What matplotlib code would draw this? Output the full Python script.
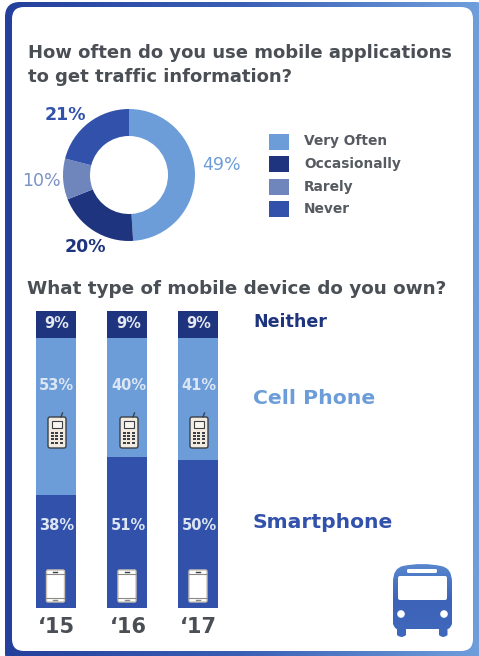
import matplotlib
matplotlib.use('Agg')
import matplotlib.pyplot as plt
import numpy as np
from matplotlib.colors import LinearSegmentedColormap
from matplotlib.patches import Circle, FancyBboxPatch, Rectangle, PathPatch
from matplotlib.path import Path

# Donut data
usage_labels = ['Very Often', 'Occasionally', 'Rarely', 'Never']
usage_values = [49, 20, 10, 21]
usage_colors = ['#6D9DD9', '#1E347F', '#6E86BC', '#3251AB']

# Stacked bars, one value per year
years = ["‘15", "‘16", "‘17"]
smartphone = [38, 51, 50]
cell_phone = [53, 40, 41]
neither = [9, 9, 9]

W, H = 479, 656
GRAY = '#4A4F55'
FONT = 'DejaVu Sans'

fig = plt.figure(figsize=(W / 100, H / 100), dpi=100, facecolor='white')


def px_axes(x0, y0, x1, y1, zorder=1):
    ax = fig.add_axes([x0 / W, 1 - y1 / H, (x1 - x0) / W, (y1 - y0) / H], zorder=zorder)
    ax.axis('off')
    return ax


def canvas(zorder):
    # full-figure axes working in pixels, y pointing down
    ax = px_axes(0, 0, W, H, zorder)
    ax.set_xlim(0, W)
    ax.set_ylim(H, 0)
    ax.patch.set_alpha(0)
    return ax


def rounded(x0, y0, x1, y1, r):
    return FancyBboxPatch((x0 + r, y0 + r), x1 - x0 - 2 * r, y1 - y0 - 2 * r,
                          boxstyle='round,pad=%f,rounding_size=%f' % (r, r),
                          linewidth=0)


bg = canvas(0)
fg = canvas(5)

# gradient frame
frame_cmap = LinearSegmentedColormap.from_list('frame', ['#24409C', '#3A5FB5', '#6F9EDB'])
outer = rounded(5, 2, 490, 668, 15)
outer.set_facecolor('none')
bg.add_patch(outer)
grad = np.linspace(0, 1, 256).reshape(1, -1)
im = bg.imshow(grad, extent=(5, W, H, 2), cmap=frame_cmap, aspect='auto', zorder=1)
im.set_clip_path(outer)
bg.set_xlim(0, W)
bg.set_ylim(H, 0)
inner = rounded(12, 7, 473, 651, 12)
inner.set_facecolor('white')
inner.set_zorder(2)
bg.add_patch(inner)

# titles
fg.text(28, 53, 'How often do you use mobile applications', fontsize=13, fontweight='bold',
        color=GRAY, family=FONT, va='center')
fg.text(28, 77, 'to get traffic information?', fontsize=13, fontweight='bold',
        color=GRAY, family=FONT, va='center')
fg.text(27, 289, 'What type of mobile device do you own?', fontsize=13.2, fontweight='bold',
        color=GRAY, family=FONT, va='center')

# donut
pie_ax = px_axes(129 - 66, 175 - 66, 129 + 66, 175 + 66)
pie_ax.pie(usage_values, colors=usage_colors, startangle=90, counterclock=False, radius=1,
           wedgeprops=dict(width=27 / 66, linewidth=0))
pie_ax.set_xlim(-1, 1)
pie_ax.set_ylim(-1, 1)

pct_pos = [(222, 165), (85, 247), (41, 181), (65, 115)]
pct_colors = ['#6D9DD9', '#1E347F', '#7C92C4', '#3251AB']
pct_weight = ['normal', 'bold', 'normal', 'bold']
for v, (x, y), c, w in zip(usage_values, pct_pos, pct_colors, pct_weight):
    fg.text(x, y, '%d%%' % v, fontsize=12.5, color=c, family=FONT, fontweight=w,
            ha='center', va='center')

# legend
for i, (lab, c) in enumerate(zip(usage_labels, usage_colors)):
    yc = 141.5 + i * 22.5
    fg.add_patch(Rectangle((269, yc - 8), 20, 16, facecolor=c, linewidth=0))
    fg.text(304, yc, lab, fontsize=9.9, fontweight='bold', color='#555B60', family=FONT,
            va='center')

# stacked bars
bar_ax = px_axes(36 - 0.22 * 71.25, 311, 218 + 0.22 * 71.25, 608)
xs = np.arange(len(years))
bar_w = 0.56
bar_ax.bar(xs, smartphone, width=bar_w, color='#3251AB', linewidth=0)
bar_ax.bar(xs, cell_phone, width=bar_w, bottom=smartphone, color='#6D9DD9', linewidth=0)
bar_ax.bar(xs, neither, width=bar_w, bottom=np.add(smartphone, cell_phone), color='#1E347F', linewidth=0)
bar_ax.set_xlim(-0.5, 2.5)
bar_ax.set_ylim(0, 100)

centers = [56, 128, 198.5]
for i, xc in enumerate(centers):
    for val, y, col in [(neither[i], 323, '#E6E9F0'), (cell_phone[i], 386, '#DCE6F3'), (smartphone[i], 526, '#DCE6F3')]:
        fg.text(xc + 0.5, y, '%d%%' % val, fontsize=10.5, fontweight='bold', color=col, family=FONT,
                ha='center', va='center')
    fg.text(xc, 627, years[i], fontsize=15, fontweight='bold', color=GRAY, family=FONT,
            ha='center', va='center')

# series names to the right of the bars
fg.text(253, 322, 'Neither', fontsize=12.6, fontweight='bold', color='#1E347F', family=FONT, va='center')
fg.text(253, 399, 'Cell Phone', fontsize=14.7, fontweight='bold', color='#6D9DD9', family=FONT, va='center')
fg.text(253, 523, 'Smartphone', fontsize=14.6, fontweight='bold', color='#3251AB', family=FONT, va='center')


def cell_icon(xc):
    x0, x1, y0, y1 = xc - 9, xc + 9, 417, 448
    fg.plot([xc + 4, xc + 5.5], [y0, y0 - 4], color='#3A3F48', lw=1)
    p = rounded(x0, y0, x1, y1, 2)
    p.set(facecolor='#F3EBDF', edgecolor='#3A3F48', linewidth=1)
    fg.add_patch(p)
    fg.add_patch(Rectangle((xc - 5, y0 + 4), 10, 7, facecolor='#F9F5EE', edgecolor='#3A3F48', linewidth=0.8))
    for r in range(4):
        for c in range(3):
            fg.add_patch(Rectangle((xc - 6 + c * 4.5, y0 + 14.5 + r * 3.4), 2.6, 2, facecolor='#3A3F48', linewidth=0))


def smart_icon(xc):
    x0, x1, y0, y1 = xc - 9, xc + 9, 570, 602
    p = rounded(x0, y0, x1, y1, 1.5)
    p.set(facecolor='white', edgecolor='#C9C2B4', linewidth=1)
    fg.add_patch(p)
    fg.plot([x0, x1], [y0 + 4, y0 + 4], color='#8C8A84', lw=0.8)
    fg.plot([x0, x1], [y1 - 4, y1 - 4], color='#8C8A84', lw=0.8)
    fg.plot([xc - 2, xc + 2], [y0 + 2, y0 + 2], color='#3A3F48', lw=1)
    fg.plot([xc - 2, xc + 2], [y1 - 2, y1 - 2], color='#8C8A84', lw=1)


for xc in [57, 129, 199]:
    cell_icon(xc)
for xc in [55.5, 127, 198]:
    smart_icon(xc)

# bus pictogram, vertical gradient clipped to the silhouette
bus_cmap = LinearSegmentedColormap.from_list('bus', ['#5A8BD0', '#3D63B8', '#3F68BC'])
M, L, C = Path.MOVETO, Path.LINETO, Path.CURVE3
bus_pts = [
    (393, 624), (393, 582), (393, 568), (403, 566), (422, 562), (441, 566),
    (452, 568), (452, 582), (452, 624), (450, 629), (447.5, 629), (447.5, 635),
    (443, 639), (439, 635), (439, 629), (406, 629), (406, 635), (401.5, 639),
    (397, 635), (397, 629), (395, 629), (393, 624),
]
bus_codes = [M, L, C, C, C, C, C, C, L, C, C, L, C, C, L, L, L, C, C, L, C, C]
sil_patch = PathPatch(Path(bus_pts, bus_codes), facecolor='none', linewidth=0)
fg.add_patch(sil_patch)
bus = fg.imshow(np.linspace(0, 1, 128).reshape(-1, 1), extent=(390, 455, 640, 560), cmap=bus_cmap,
                aspect='auto')
bus.set_clip_path(sil_patch)
fg.set_xlim(0, W)
fg.set_ylim(H, 0)
window = rounded(398, 576, 447, 600, 2)
window.set(facecolor='white', zorder=6)
fg.add_patch(window)
strip = rounded(407, 569, 437, 573, 1.5)
strip.set(facecolor='white', zorder=6)
fg.add_patch(strip)
for xc in [401, 444]:
    fg.add_patch(Circle((xc, 614), 3.8, facecolor='white', linewidth=0, zorder=6))

fig.savefig('out.png', dpi=100)
